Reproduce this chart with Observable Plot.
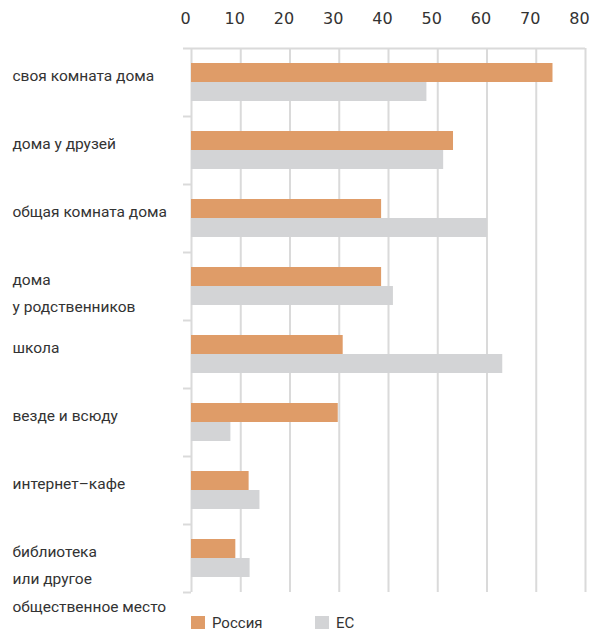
<!DOCTYPE html>
<html>
<head>
<meta charset="utf-8">
<script src="https://cdn.jsdelivr.net/npm/d3@7"></script>
<script src="https://cdn.jsdelivr.net/npm/@observablehq/plot@0.6"></script>
<style>
  body { margin: 0; background: #fff; font-family: Roboto, sans-serif; }
  #chart svg { display: block; overflow: visible; }
  .legend { display: flex; align-items: center; height: 21px; padding-left: 191px; font-size: 15px; color: #333; }
  .legend .item { display: flex; align-items: center; width: 124px; }
  .legend .sw { width: 14px; height: 13px; margin-right: 7px; }
</style>
</head>
<body>
<div id="chart"></div>
<script>
const categories = [
  "своя комната дома",
  "дома у друзей",
  "общая комната дома",
  "дома\nу родственников",
  "школа",
  "везде и всюду",
  "интернет–кафе",
  "библиотека\nили другое\nобщественное место"
];
const russia = [73.4, 53.2, 38.6, 38.6, 30.8, 29.8, 11.7, 9.0];
const eu = [47.8, 51.2, 60.1, 41.0, 63.2, 8.0, 13.9, 11.9];
const seriesNames = ["Россия", "ЕС"];
const seriesColors = ["#df9c68", "#d3d4d6"];
const xTicks = [0, 10, 20, 30, 40, 50, 60, 70, 80];

const rows = [];
categories.forEach((c, i) => {
  rows.push({category: c, series: seriesNames[0], value: russia[i]});
  rows.push({category: c, series: seriesNames[1], value: eu[i]});
});

const gridColor = "#dadada";
const last = categories[categories.length - 1];

const chart = Plot.plot({
  width: 602,
  height: 612,
  marginLeft: 191,
  marginRight: 17,
  marginTop: 48,
  marginBottom: 20,
  style: {fontFamily: "Roboto, sans-serif", background: "white", overflow: "visible"},
  x: {domain: [0, 80], axis: null, label: null},
  y: {domain: categories, padding: 0, axis: null, label: null},
  color: {domain: seriesNames, range: seriesColors},
  marks: [
    Plot.ruleX(xTicks, {stroke: gridColor, strokeWidth: 2}),
    Plot.ruleY([categories[0]], {y: d => d, dy: -34, x1: 0, x2: 80, insetLeft: -8, stroke: gridColor, strokeWidth: 2}),
    Plot.ruleY(categories.slice(1), {y: d => d, dy: -34, x1: 0, x2: 0, insetLeft: -8, stroke: gridColor, strokeWidth: 2}),
    Plot.ruleY([last], {y: d => d, dy: 34, x1: 0, x2: 0, insetLeft: -8, stroke: gridColor, strokeWidth: 2}),
    Plot.barX(rows.filter(d => d.series === seriesNames[0]), {y: "category", x: "value", fill: "series", insetTop: 15, insetBottom: 34}),
    Plot.barX(rows.filter(d => d.series === seriesNames[1]), {y: "category", x: "value", fill: "series", insetTop: 34, insetBottom: 15}),
    Plot.text(categories, {y: d => d, text: d => d, frameAnchor: "left", textAnchor: "start", lineAnchor: "top", dx: -179, dy: -21, fontSize: 15.5, lineHeight: 1.77, fill: "#333"}),
    Plot.axisX(xTicks, {anchor: "top", label: null, tickSize: 0, tickPadding: 25, dx: -6, fontSize: 16, fontFamily: "DejaVu Sans", color: "#333"})
  ]
});
document.getElementById("chart").appendChild(chart);

const legend = document.createElement("div");
legend.className = "legend";
seriesNames.forEach((s, i) => {
  const item = document.createElement("div");
  item.className = "item";
  const sw = document.createElement("span");
  sw.className = "sw";
  sw.style.background = seriesColors[i];
  const t = document.createElement("span");
  t.textContent = s;
  item.appendChild(sw);
  item.appendChild(t);
  legend.appendChild(item);
});
document.body.appendChild(legend);
</script>
</body>
</html>
